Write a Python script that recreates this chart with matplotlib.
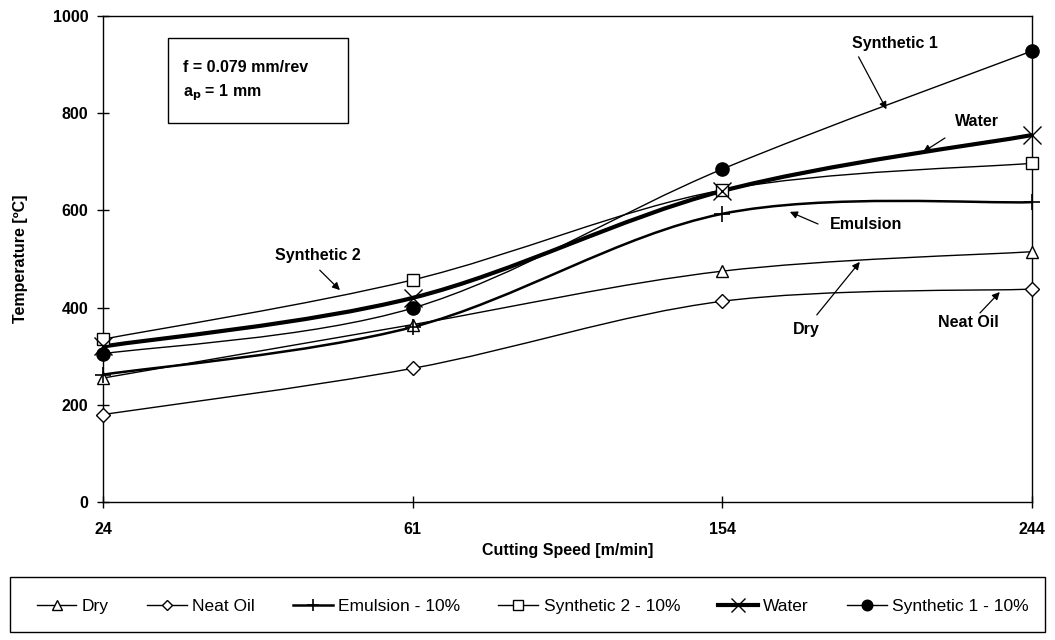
import matplotlib
matplotlib.use('Agg')
import matplotlib.pyplot as plt
from matplotlib.path import Path
from matplotlib.patches import PathPatch, Rectangle
from matplotlib.lines import Line2D

plt.rcParams['font.family'] = ['Liberation Sans', 'DejaVu Sans']

# -- data --
speeds = ['24', '61', '154', '244']
dry = [255, 365, 475, 515]
neat_oil = [180, 275, 413, 438]
emulsion = [262, 360, 593, 617]
synthetic2 = [335, 457, 642, 697]
water = [320, 420, 640, 755]
synthetic1 = [305, 399, 685, 928]

labels = ['Dry', 'Neat Oil', 'Emulsion - 10%', 'Synthetic 2 - 10%', 'Water',
          'Synthetic 1 - 10%']

# style per series: (values, line width, marker, marker size, face colour, edge width)
series = [
    (dry,        1.0, '^', 9,  'white', 1.0),
    (neat_oil,   1.0, 'D', 7,  'white', 1.0),
    (emulsion,   1.8, '+', 11, 'black', 1.2),
    (synthetic2, 1.0, 's', 8.5, 'white', 1.0),
    (water,      3.0, 'x', 13, 'black', 1.0),
    (synthetic1, 1.0, 'o', 9.5, 'black', 1.0),
]


def smooth_path(xs, ys):
    # Excel-like smoothed line: Catmull-Rom segments as cubic Bezier curves
    pts = list(zip(xs, ys))
    n = len(pts)
    verts = [pts[0]]
    codes = [Path.MOVETO]
    for i in range(n - 1):
        p0 = pts[max(i - 1, 0)]
        p1 = pts[i]
        p2 = pts[i + 1]
        p3 = pts[min(i + 2, n - 1)]
        c1 = (p1[0] + (p2[0] - p0[0]) / 6, p1[1] + (p2[1] - p0[1]) / 6)
        c2 = (p2[0] - (p3[0] - p1[0]) / 6, p2[1] - (p3[1] - p1[1]) / 6)
        verts += [c1, c2, p2]
        codes += [Path.CURVE4] * 3
    return Path(verts, codes)


fig = plt.figure(figsize=(10.55, 6.4), dpi=100)
ax = fig.add_axes([103 / 1055, 1 - 502 / 640, 929 / 1055, 486 / 640])

x = list(range(len(speeds)))
handles = []
for (vals, lw, mk, ms, fc, mew), lab in zip(series, labels):
    patch = PathPatch(smooth_path(x, vals), fill=False, edgecolor='black',
                      lw=lw, clip_on=False, zorder=2)
    ax.add_patch(patch)
    ax.plot(x, vals, ls='none', marker=mk, ms=ms, mfc=fc, mec='black',
            mew=mew, clip_on=False, zorder=3)
    handles.append(Line2D([], [], color='black', lw=lw, marker=mk,
                          ms=ms * 0.8, mfc=fc, mec='black', mew=mew, label=lab))

ax.set_xlim(0, 3)
ax.set_ylim(0, 1000)
ax.set_xticks(x)
ax.set_xticklabels(speeds)
ax.set_yticks(range(0, 1001, 200))
ax.tick_params(direction='inout', length=9, width=1, labelsize=11.5, pad=6)
for lbl in ax.get_xticklabels() + ax.get_yticklabels():
    lbl.set_fontweight('bold')
ax.tick_params(axis='x', pad=10)
for sp in ax.spines.values():
    sp.set_linewidth(1.0)

ax.set_xlabel('Cutting Speed [m/min]', fontsize=11.5, fontweight='bold', labelpad=4)
ax.set_ylabel('Temperature [ºC]', fontsize=11.5, fontweight='bold', labelpad=18)

# parameter box
ax.add_patch(Rectangle((0.070, 0.780), 0.194, 0.175, transform=ax.transAxes,
                       fill=False, edgecolor='black', lw=1.0))
ax.text(0.086, 0.895, 'f = 0.079 mm/rev', transform=ax.transAxes,
        fontsize=11.5, fontweight='bold', va='center')
ax.text(0.086, 0.842, r'a$_\mathbf{p}$ = 1 mm', transform=ax.transAxes,
        fontsize=11.5, fontweight='bold', va='center')

# curve labels with arrows
arrow = dict(arrowstyle='-|>', color='black', lw=0.9, mutation_scale=11,
             shrinkA=0, shrinkB=0)
notes = [
    ('Synthetic 1', (2.557, 944), (2.44, 916), (2.53, 808)),
    ('Water',       (2.822, 782), (2.719, 749), (2.648, 720)),
    ('Emulsion',    (2.464, 572), (2.309, 572), (2.218, 597)),
    ('Synthetic 2', (0.694, 508), (0.70, 477), (0.765, 436)),
    ('Dry',         (2.270, 354), (2.305, 385), (2.444, 494)),
    ('Neat Oil',    (2.793, 370), (2.832, 389), (2.896, 432)),
]
for txt, tpos, tail, head in notes:
    ax.text(tpos[0], tpos[1], txt, fontsize=11.5, fontweight='bold',
            ha='center', va='center')
    ax.annotate('', xy=head, xytext=tail, arrowprops=arrow)

# legend below the plot, in its own frame
fig.patches.append(Rectangle((10 / 1055, 8 / 640), 1035 / 1055, 55 / 640,
                             transform=fig.transFigure, fill=False,
                             edgecolor='black', lw=1.0))
fig.legend(handles=handles, loc='center', bbox_to_anchor=(0.505, 0.052),
           ncol=6, frameon=False, fontsize=12.5, handlelength=2.3,
           handletextpad=0.3, columnspacing=2.2)

fig.savefig('out.png', dpi=100)
